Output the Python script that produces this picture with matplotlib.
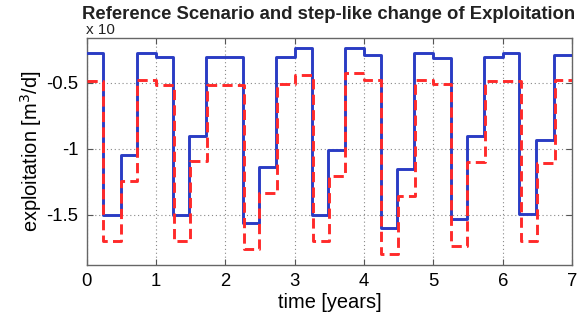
import matplotlib
matplotlib.use("Agg")
import matplotlib.pyplot as plt

plt.rcParams['font.family'] = ['Liberation Sans', 'DejaVu Sans']

# Blue (solid) series: breakpoints and levels (step, post)
blue_t = [0.0, 0.23, 0.49, 0.72, 1.0, 1.25, 1.48, 1.72, 2.25, 2.48, 2.73, 3.0,
          3.25, 3.48, 3.72, 4.0, 4.24, 4.47, 4.72, 5.0, 5.25, 5.48, 5.73, 6.0,
          6.24, 6.48, 6.74, 7.0]
blue_v = [-0.275, -1.50, -1.05, -0.275, -0.305, -1.50, -0.90, -0.305, -1.558, -1.14,
          -0.305, -0.237, -1.50, -1.01, -0.237, -0.288, -1.596, -1.15, -0.275, -0.313,
          -1.53, -0.906, -0.305, -0.275, -1.49, -0.93, -0.29, -0.29]

# Red (dashed) series
red_t = [0.0, 0.24, 0.49, 0.73, 1.0, 1.26, 1.49, 1.73, 2.26, 2.49, 2.74, 3.0,
         3.26, 3.49, 3.73, 4.0, 4.25, 4.49, 4.73, 5.0, 5.26, 5.49, 5.74, 6.26,
         6.49, 6.75, 7.0]
red_v = [-0.483, -1.695, -1.245, -0.477, -0.515, -1.695, -1.093, -0.515, -1.76, -1.333,
         -0.508, -0.44, -1.697, -1.207, -0.427, -0.477, -1.795, -1.354, -0.477, -0.508,
         -1.733, -1.10, -0.485, -1.695, -1.11, -0.477, -0.477]

x_ticks = [0, 1, 2, 3, 4, 5, 6, 7]
y_ticks = [-1.5, -1.0, -0.5]
y_ticklabels = ['-1.5', '-1', '-0.5']

fig = plt.figure(figsize=(5.79, 3.21), dpi=100)
ax = fig.add_axes([0.150, 0.174, 0.838, 0.708])

ax.step(blue_t, blue_v, where='post', color='#2a3cc4', lw=2.1, zorder=3)
ax.step(red_t, red_v, where='post', color='#ff2a2a', lw=2.1, ls=(0, (3.5, 1.8)), zorder=4)

ax.set_xlim(0, 7)
ax.set_ylim(-1.88, -0.16)
ax.set_xticks(x_ticks)
ax.set_yticks(y_ticks)
ax.set_yticklabels(y_ticklabels)
ax.tick_params(direction='in', labelsize=13.3, top=True, right=True, length=4,
               color='#555555', width=0.8, pad=6)
ax.grid(True, ls=(0, (1, 2.5)), color='#888888', lw=0.8)
for s in ax.spines.values():
    s.set_color('#666666')
    s.set_linewidth(1.0)

ax.set_xlabel('time [years]', fontsize=14.4, labelpad=2)
ax.set_ylabel('exploitation [m$^3$/d]', fontsize=14.4, labelpad=2)
fig.text(0.567, 0.955, 'Reference Scenario and step-like change of Exploitation',
         ha='center', va='center', fontsize=13.3, fontweight='bold', color='#222222')
fig.text(0.148, 0.905, 'x 10', ha='left', va='center', fontsize=11, color='#222222')

fig.savefig('out.png', dpi=100)
